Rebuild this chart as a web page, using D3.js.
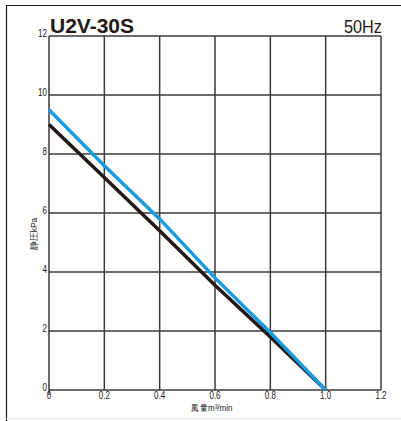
<!DOCTYPE html>
<html><head><meta charset="utf-8">
<script src="https://cdn.jsdelivr.net/npm/d3@7"></script>
<style>body{margin:0;background:#fff}svg{display:block}</style>
</head><body>
<svg id="c" width="401" height="421"></svg>
<script>
const flow = [0, 0.2, 0.4, 0.6, 0.8, 1.0];
const blueSeries = [9.5, 7.6, 5.8, 3.8, 1.95, 0];
const blackSeries = [9.0, 7.2, 5.4, 3.55, 1.8, 0];
const xTicks = [0, 0.2, 0.4, 0.6, 0.8, 1.0, 1.2];
const xTickLabels = ["0", "0.2", "0.4", "0.6", "0.8", "1.0", "1.2"];
const yTicks = [0, 2, 4, 6, 8, 10, 12];
const title = "U2V-30S";
const freq = "50Hz";
const xLabel = "風量m³/min";
const yLabel = "静圧kPa";

const svg = d3.select("#c");
const L = 49, R = 381, T = 36, B = 390;
const x = d3.scaleLinear().domain([0, 1.2]).range([L, R]);
const y = d3.scaleLinear().domain([0, 12]).range([B, T]);
const tickFont = "'Liberation Sans',Arial,sans-serif";
const ink = "#231815";

// outer frame
svg.append("line").attr("x1", 6.5).attr("x2", 401).attr("y1", 5.5).attr("y2", 5.5).attr("stroke", ink).attr("stroke-width", 1.2);
svg.append("line").attr("x1", 6.5).attr("x2", 6.5).attr("y1", 5).attr("y2", 421).attr("stroke", ink).attr("stroke-width", 1.2);
svg.append("line").attr("x1", 6).attr("x2", 401).attr("y1", 418.5).attr("y2", 418.5).attr("stroke", "#e6e6e6").attr("stroke-width", 1);

// grid
const g = svg.append("g");
g.selectAll(".vg").data(xTicks).join("line")
  .attr("x1", d => x(d)).attr("x2", d => x(d)).attr("y1", T).attr("y2", d => d === 0 ? B + 5 : B)
  .attr("stroke", "#3a3a3a").attr("stroke-width", 1.5);
g.selectAll(".hg").data(yTicks).join("line")
  .attr("x1", L).attr("x2", R).attr("y1", d => y(d)).attr("y2", d => y(d))
  .attr("stroke", "#3a3a3a").attr("stroke-width", 1.5);

// tick labels (condensed)
g.selectAll(".xt").data(xTicks).join("text")
  .attr("transform", d => `translate(${x(d)},${B + 9}) scale(0.8,1)`).attr("text-anchor", "middle")
  .attr("font-family", tickFont).attr("font-size", 10).attr("fill", ink)
  .text((d, i) => xTickLabels[i]);
g.selectAll(".yt").data(yTicks).join("text")
  .attr("transform", d => `translate(${L - 2},${y(d) + 1}) scale(0.8,1)`).attr("text-anchor", "end")
  .attr("font-family", tickFont).attr("font-size", 10).attr("fill", ink)
  .text(d => d);

// axis labels
svg.append("text").attr("transform", `translate(${(L + R) / 2 - 3},411) scale(0.85,1)`).attr("text-anchor", "middle")
  .attr("font-family", tickFont).attr("font-size", 9.5).attr("fill", ink).text(xLabel);
svg.append("text").attr("transform", `translate(37,234) rotate(-90)`).attr("text-anchor", "middle")
  .attr("font-family", tickFont).attr("font-size", 8.5).attr("fill", ink).text(yLabel);

// title
svg.append("text").attr("x", 50).attr("y", 33).attr("font-family", tickFont)
  .attr("font-weight", "bold").attr("font-size", 21).attr("fill", ink).text(title);
svg.append("text").attr("transform", "translate(382,33) scale(0.88,1)").attr("text-anchor", "end").attr("font-family", tickFont)
  .attr("font-size", 18.5).attr("fill", ink).text(freq);

// curves
const line = d3.line().x((d, i) => x(flow[i])).y(d => y(d));
svg.append("path").datum(blackSeries).attr("d", line).attr("fill", "none").attr("stroke", ink).attr("stroke-width", 3.5);
svg.append("path").datum(blueSeries).attr("d", line).attr("fill", "none").attr("stroke", "#1a9be0").attr("stroke-width", 3.5);
</script>
</body></html>
